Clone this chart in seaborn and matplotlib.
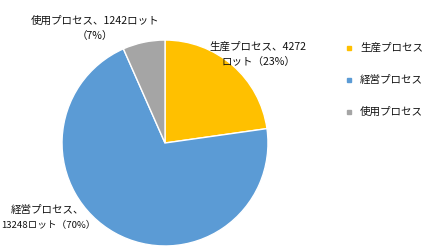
import matplotlib
matplotlib.use("Agg")
import matplotlib.pyplot as plt
import seaborn as sns
from matplotlib.lines import Line2D

categories = ["生産プロセス", "経営プロセス", "使用プロセス"]
values = [4272, 13248, 1242]
percents = [23, 70, 7]
colors = ["#FFC000", "#5B9BD5", "#A5A5A5"]

sns.set_style("white")
plt.rcParams['font.family'] = ['Noto Sans CJK JP', 'DejaVu Sans']

W, H = 426, 252
fig = plt.figure(figsize=(W / 100, H / 100), dpi=100)
fig.patch.set_facecolor("white")

cx, cy, r = 165, 143, 104
ax = fig.add_axes([(cx - r) / W, (H - cy - r) / H, 2 * r / W, 2 * r / H])
ax.pie(values, colors=sns.color_palette(colors), startangle=90, counterclock=False,
       wedgeprops=dict(edgecolor="white", linewidth=1.0))
ax.set_xlim(-1.01, 1.01)
ax.set_ylim(-1.01, 1.01)
ax.set_aspect("equal")
ax.axis("off")

fs = 7.6
def ptext(x, y, s, size=fs, **kw):
    fig.text(x / W, 1 - y / H, s, fontsize=size, ha="center", va="center", color="#111111", **kw)

ptext(95, 21, f"{categories[2]}、{values[2]}ロット")
ptext(95, 36, f"（{percents[2]}%）")
ptext(258, 47, f"{categories[0]}、{values[0]}")
ptext(258, 62, f"ロット（{percents[0]}%）")
ptext(47, 210, f"{categories[1]}、")
ptext(48, 226, f"{values[1]}ロット（{percents[1]}%）", size=6.9)

for i, (h, lab) in enumerate(zip(colors, categories)):
    y = 48 + 32 * i
    fig.lines.append(Line2D([349 / W], [1 - y / H], marker="s", linestyle="none",
                            markersize=3.0, markerfacecolor=h, markeredgecolor=h,
                            transform=fig.transFigure))
    fig.text(360 / W, 1 - y / H, lab, fontsize=fs, ha="left", va="center", color="#111111")

fig.savefig("out.png", dpi=100, facecolor="white")
